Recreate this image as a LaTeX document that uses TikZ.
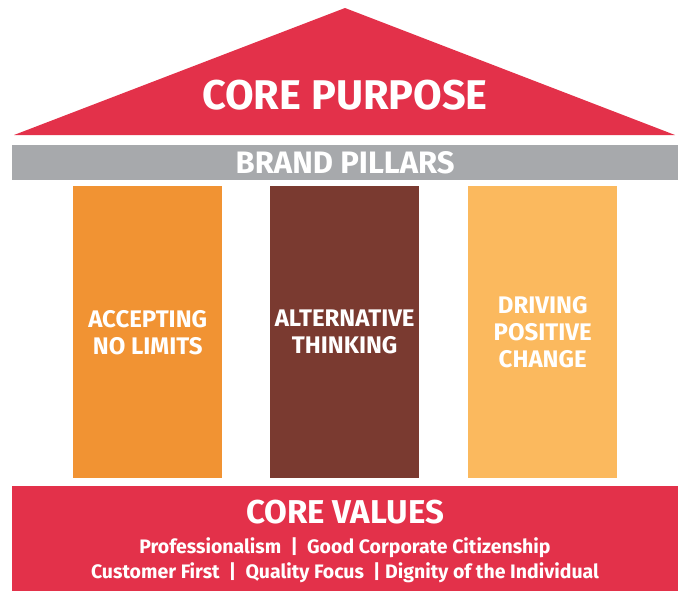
\documentclass[tikz,border=0pt]{standalone}
\usepackage{fontspec}
\setmainfont{Fira Sans}
\usetikzlibrary{positioning}
\definecolor{corered}{HTML}{E3314A}
\definecolor{pillargray}{HTML}{A7A9AC}
\definecolor{pillarA}{HTML}{F19333}
\definecolor{pillarB}{HTML}{7A3A30}
\definecolor{pillarC}{HTML}{FBB95E}
\tikzset{
  pillar/.style={minimum width=149pt,minimum height=292pt,inner sep=0pt,anchor=north west,
    text=white,align=center,font=\fontsize{24}{27}\selectfont\bfseries},
  bar/.style={minimum width=666pt,inner sep=0pt,anchor=north west,text=white}
}
\begin{document}
\begin{tikzpicture}[x=1pt,y=-1pt,line join=miter]
\useasboundingbox (0,0) rectangle (685,590);
%roof
\coordinate (apex) at (345,8);
\coordinate (eaveL) at (14,135);
\coordinate (eaveR) at (675,135);
\fill [corered] (eaveL)-- (apex)-- (eaveR)-- cycle;
\node [text=white,font=\fontsize{41.5}{44}\selectfont\bfseries] (purpose) at (345,95) {CORE PURPOSE};
%beam
\node [bar,fill=pillargray,minimum height=35pt,font=\fontsize{31}{33}\selectfont\bfseries] (brand) at (12,145) {BRAND PILLARS};
%pillars
\node [pillar,fill=pillarA] (limits) at (73,186) {ACCEPTING\\NO LIMITS};
\node [pillar,fill=pillarB] (thinking) at (270,186) {ALTERNATIVE\\THINKING};
\node [pillar,fill=pillarC] (change) at (468,186) {DRIVING\\POSITIVE\\CHANGE};
%base
\node [bar,fill=corered,minimum height=105pt] (base) at (12,486) {};
\node [text=white,font=\fontsize{33}{35}\selectfont\bfseries] (values) at (345,512) {CORE VALUES};
\node [text=white,align=center,font=\fontsize{19.5}{25}\selectfont\bfseries] (valuelist) at (345,560)
  {Professionalism~~|~~Good Corporate Citizenship\\Customer First~~|~~Quality Focus~~|~Dignity of the Individual};
\end{tikzpicture}
\end{document}
